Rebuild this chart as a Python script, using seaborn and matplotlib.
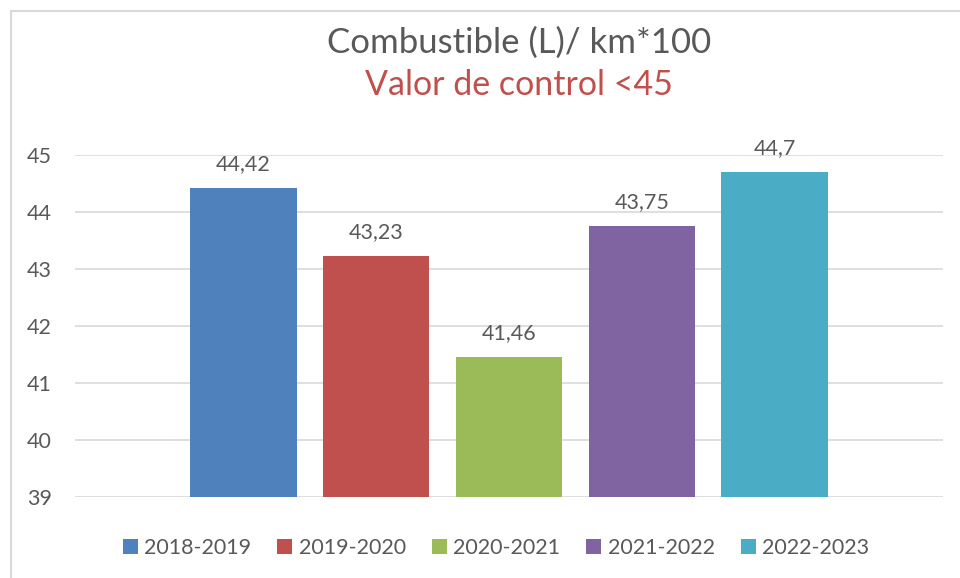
import matplotlib
matplotlib.use("Agg")
import matplotlib.pyplot as plt
from matplotlib.patches import Rectangle, Patch
import seaborn as sns
import pandas as pd

periods = ["2018-2019", "2019-2020", "2020-2021", "2021-2022", "2022-2023"]
values = [44.42, 43.23, 41.46, 43.75, 44.7]
colors = ["#4F81BD", "#C0504D", "#9BBB59", "#8064A2", "#4BACC6"]
yticks = [39, 40, 41, 42, 43, 44, 45]

sns.set_theme(style="white")
plt.rcParams['font.family'] = ['Lato', 'DejaVu Sans']
txt = "#595959"

df = pd.DataFrame({"periodo": periods, "valor": values})

fig = plt.figure(figsize=(9.6, 5.78), dpi=100)
ax = fig.add_axes([75/960, 1 - 497/578, (943 - 75)/960, (497 - 155)/578])

sns.barplot(data=df, x="periodo", y="valor", hue="periodo", palette=colors,
            legend=False, width=0.8, ax=ax, saturation=1, edgecolor="none")

ax.set_ylim(39, 45)
ax.set_xlim(-1.27, 5.27)
ax.set_yticks(yticks)
ax.set_yticklabels([str(t) for t in yticks], color=txt, fontsize=15.5)
ax.set_xticks([])
ax.set_xlabel("")
ax.set_ylabel("")
ax.tick_params(axis="y", length=0, pad=16.5)
ax.grid(axis="y", color="#D9D9D9", linewidth=1.2)
ax.set_axisbelow(True)
for s in ax.spines.values():
    s.set_visible(False)

for i, v in enumerate(values):
    ax.annotate(str(v).replace(".", ","), (i, v), xytext=(0, 10),
                textcoords="offset points", ha="center", va="bottom",
                color=txt, fontsize=15.5)

fig.text(519/960, 1 - 43/578, "Combustible (L)/ km*100", ha="center", va="center",
         color=txt, fontsize=25)
fig.text(519/960, 1 - 85/578, "Valor de control <45", ha="center", va="center",
         color="#C0504D", fontsize=24.5)

handles = [Patch(facecolor=c, edgecolor="none") for c in colors]
fig.legend(handles, periods, loc="center", bbox_to_anchor=(496/960, 1 - 548/578),
           ncol=5, frameon=False, fontsize=15.5, handlelength=0.7, handleheight=0.7,
           handletextpad=0.3, columnspacing=1.2, labelcolor=txt)

fig.patches.append(Rectangle((11/960, -0.1), 1.0, 1 - 11/578 + 0.1, transform=fig.transFigure,
                             fill=False, edgecolor="#D9D9D9", linewidth=1.5))

fig.savefig("out.png", dpi=100)
